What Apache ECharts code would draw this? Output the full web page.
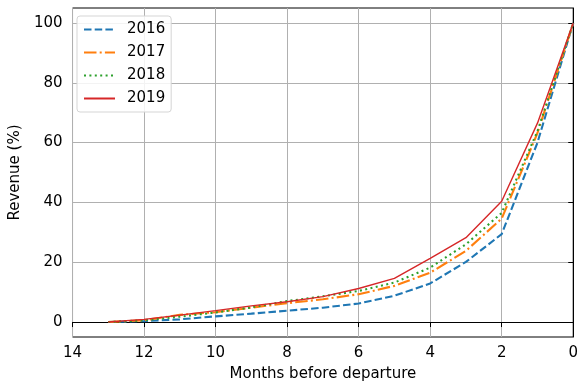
<!DOCTYPE html>
<html>
<head>
<meta charset="utf-8">
<script src="https://cdn.jsdelivr.net/npm/echarts@6/dist/echarts.min.js"></script>
<style>
  html, body { margin: 0; padding: 0; background: #fff; }
  #chart { width: 581px; height: 387px; }
</style>
</head>
<body>
<div id="chart"></div>
<script>
// Months before departure (x) and cumulative revenue share (%) per year
const months = [13, 12, 11, 10, 9, 8, 7, 6, 5, 4, 3, 2, 1, 0];
const rev2016 = [0, 0.3, 0.9, 1.9, 2.8, 3.8, 4.8, 6.2, 8.8, 12.9, 20.1, 29.4, 60, 100];
const rev2017 = [0, 0.6, 2.4, 3.3, 4.8, 6.3, 7.6, 9.3, 12.1, 16.5, 23.8, 34.6, 63.2, 100];
const rev2018 = [0, 0.6, 1.8, 3.2, 4.9, 7.0, 8.6, 10.4, 13.2, 18.2, 26.0, 36.5, 63.8, 100];
const rev2019 = [0, 0.9, 2.3, 3.8, 5.4, 6.8, 8.5, 11.2, 14.6, 21.3, 28.2, 40.4, 66.5, 100];
const yTicks = [0, 20, 40, 60, 80, 100];

const font = 'DejaVu Sans';
const fs = 15;
const pair = arr => months.map((m, i) => [m, arr[i]]);

const seriesDefs = [
  { name: '2016', data: rev2016, color: '#1f77b4', width: 2.1, type: [7.5, 3.2] },
  { name: '2017', data: rev2017, color: '#ff7f0e', width: 2.1, type: [12.5, 3.2, 2, 3.2] },
  { name: '2018', data: rev2018, color: '#2ca02c', width: 2.1, type: [2, 3.4] },
  { name: '2019', data: rev2019, color: '#d62728', width: 1.4, type: 'solid' }
];

const chart = echarts.init(document.getElementById('chart'), null, { renderer: 'canvas' });
chart.setOption({
  animation: false,
  backgroundColor: '#fff',
  textStyle: { fontFamily: font },
  grid: {
    left: 70, right: 5, top: 8, bottom: 49,
    show: true, borderColor: '#000', borderWidth: 1, backgroundColor: 'transparent'
  },
  legend: {
    orient: 'vertical',
    left: 77, top: 16,
    padding: [6, 6, 6, 6],
    itemWidth: 31, itemHeight: 14, itemGap: 8,
    // line sample only, no marker dot
    itemStyle: { color: 'transparent', borderWidth: 0, opacity: 0 },
    borderColor: '#d5d5d5', borderWidth: 1, borderRadius: 3,
    backgroundColor: 'rgba(255,255,255,0.85)',
    textStyle: { fontFamily: font, fontSize: fs, lineHeight: 15, color: '#000', padding: [0, 0, 0, 7] },
    data: seriesDefs.map(s => s.name)
  },
  xAxis: {
    type: 'value',
    inverse: true,
    min: 0, max: 14, interval: 2,
    name: 'Months before departure',
    nameLocation: 'middle', nameGap: 30,
    nameTextStyle: { fontFamily: font, fontSize: fs, color: '#000' },
    axisLine: { show: true, lineStyle: { color: '#000', width: 1 } },
    axisTick: { show: true, length: 5, lineStyle: { color: '#000' } },
    axisLabel: { fontFamily: font, fontSize: fs, color: '#000', margin: 9 },
    splitLine: { show: true, lineStyle: { color: '#b0b0b0', width: 1 } }
  },
  yAxis: {
    type: 'value',
    min: -5, max: 105,
    name: 'Revenue (%)',
    nameLocation: 'middle', nameGap: 45, nameRotate: 90,
    nameTextStyle: { fontFamily: font, fontSize: fs, color: '#000' },
    axisLine: { show: true, lineStyle: { color: '#000', width: 1 } },
    axisTick: { show: true, length: 5, lineStyle: { color: '#000' }, customValues: yTicks },
    axisLabel: { fontFamily: font, fontSize: fs, color: '#000', margin: 10, customValues: yTicks },
    splitLine: { show: true, lineStyle: { color: '#b0b0b0', width: 1 } }
  },
  series: seriesDefs.map(s => ({
    name: s.name,
    type: 'line',
    data: pair(s.data),
    symbol: 'none',
    color: s.color,
    lineStyle: { color: s.color, width: s.width, type: s.type }
  }))
});
</script>
</body>
</html>
